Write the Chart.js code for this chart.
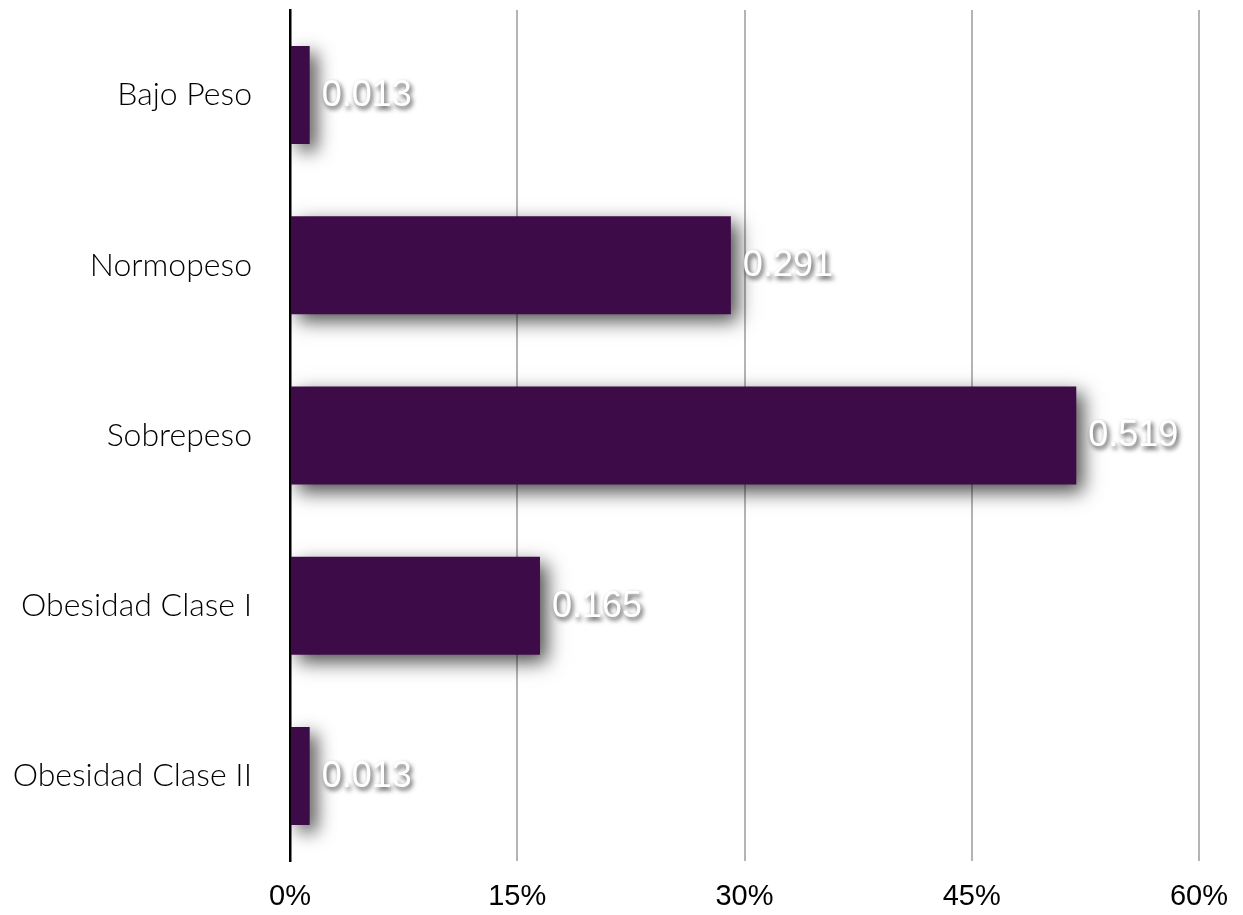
<!DOCTYPE html>
<html>
<head>
<meta charset="utf-8">
<script src="https://cdn.jsdelivr.net/npm/chart.js@4.4.0/dist/chart.umd.min.js"></script>
<style>
  html, body { margin: 0; padding: 0; background: #ffffff; }
  #wrap { width: 1243px; height: 915px; }
</style>
</head>
<body>
<div id="wrap"><canvas id="c" width="1243" height="915"></canvas></div>
<script>
// Categories and their shares (fractions of the total)
const categories = ['Bajo Peso', 'Normopeso', 'Sobrepeso', 'Obesidad Clase I', 'Obesidad Clase II'];
const shares = [0.013, 0.291, 0.519, 0.165, 0.013];
// Horizontal axis ticks
const tickValues = [0, 0.15, 0.30, 0.45, 0.60];
const tickLabels = ['0%', '15%', '30%', '45%', '60%'];

const barColor = '#3d0b47';

// Soft drop shadow behind the bars
const barShadow = {
  id: 'barShadow',
  beforeDatasetDraw(chart) {
    const ctx = chart.ctx;
    ctx.save();
    ctx.shadowColor = 'rgba(0,0,0,0.7)';
    ctx.shadowBlur = 18;
    ctx.shadowOffsetX = 7;
    ctx.shadowOffsetY = 7;
  },
  afterDatasetDraw(chart) {
    chart.ctx.restore();
  }
};

// White value labels with a dark shadow, placed past the bar end
const valueLabels = {
  id: 'valueLabels',
  afterDatasetsDraw(chart) {
    const ctx = chart.ctx;
    const meta = chart.getDatasetMeta(0);
    const data = chart.data.datasets[0].data;
    ctx.save();
    ctx.font = '36px "Liberation Sans", Arial, sans-serif';
    ctx.textAlign = 'left';
    ctx.textBaseline = 'middle';
    ctx.fillStyle = '#ffffff';
    ctx.shadowColor = 'rgba(0,0,0,0.75)';
    ctx.shadowBlur = 5;
    ctx.shadowOffsetX = 2;
    ctx.shadowOffsetY = 3;
    meta.data.forEach((bar, i) => {
      ctx.fillText(String(data[i]), bar.x + 12, bar.y + 1);
    });
    ctx.restore();
  }
};

new Chart(document.getElementById('c'), {
  type: 'bar',
  data: {
    labels: categories,
    datasets: [{
      data: shares,
      backgroundColor: barColor,
      borderWidth: 0,
      barPercentage: 0.72,
      categoryPercentage: 0.8
    }]
  },
  options: {
    indexAxis: 'y',
    responsive: false,
    animation: false,
    devicePixelRatio: 1,
    layout: { padding: { top: 10, right: 44, bottom: 0, left: 0 } },
    plugins: {
      legend: { display: false },
      tooltip: { enabled: false }
    },
    scales: {
      x: {
        min: 0,
        max: 0.6,
        afterBuildTicks(axis) {
          axis.ticks = tickValues.map(v => ({ value: v }));
        },
        afterFit(axis) {
          axis.height = 54;
          axis.paddingLeft = 0;
          axis.paddingRight = 0;
        },
        ticks: {
          color: '#000000',
          font: { family: '"Liberation Sans", Arial, sans-serif', size: 29 },
          padding: 19,
          maxRotation: 0,
          callback: (v, i) => tickLabels[i]
        },
        grid: {
          drawTicks: false,
          lineWidth: 2,
          color: c => (c.index === 0 ? 'rgba(0,0,0,0)' : '#b4b4b4')
        },
        border: { display: false }
      },
      y: {
        afterFit(axis) {
          axis.width = 290;
          axis.paddingTop = 0;
          axis.paddingBottom = 0;
        },
        ticks: {
          color: '#000000',
          font: { family: 'Lato, "Open Sans", sans-serif', size: 32, weight: '300' },
          padding: 38
        },
        grid: { display: false, drawTicks: false },
        border: { display: true, color: '#000000', width: 2.5 }
      }
    }
  },
  plugins: [barShadow, valueLabels]
});
</script>
</body>
</html>
